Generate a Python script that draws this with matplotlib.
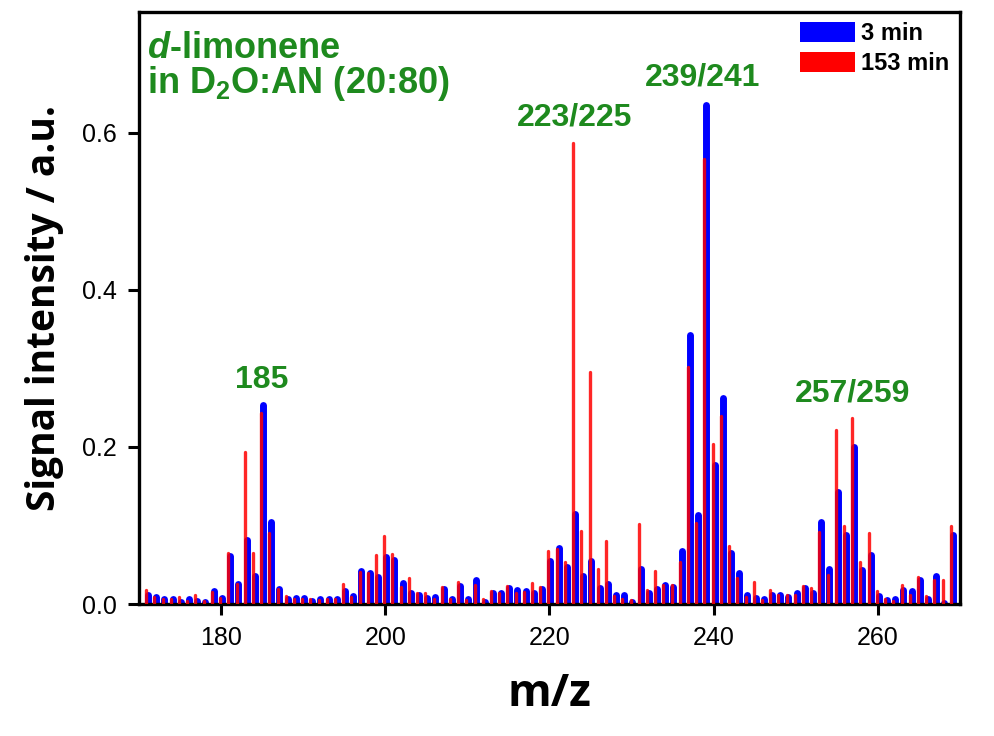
import numpy as np
import matplotlib
matplotlib.use("Agg")
import matplotlib.pyplot as plt
from matplotlib.patches import Patch

# m/z values, one peak per integer mass
mz = np.arange(171, 270)

# signal intensity after 3 min (blue)
sig_3min = [
    0.011, 0.009, 0.006, 0.006, 0.003, 0.006, 0.004, 0.002, 0.016, 0.008,  # 171-180
    0.061, 0.025, 0.081, 0.036, 0.254, 0.104, 0.019, 0.007, 0.008, 0.008,  # 181-190
    0.004, 0.006, 0.006, 0.006, 0.016, 0.010, 0.042, 0.039, 0.034, 0.060,  # 191-200
    0.056, 0.027, 0.014, 0.011, 0.008, 0.009, 0.019, 0.007, 0.023, 0.007,  # 201-210
    0.031, 0.003, 0.014, 0.014, 0.021, 0.018, 0.017, 0.014, 0.019, 0.055,  # 211-220
    0.071, 0.047, 0.115, 0.036, 0.055, 0.021, 0.026, 0.011, 0.011, 0.002,  # 221-230
    0.045, 0.014, 0.019, 0.024, 0.022, 0.067, 0.342, 0.113, 0.635, 0.177,  # 231-240
    0.262, 0.065, 0.040, 0.011, 0.008, 0.006, 0.011, 0.011, 0.009, 0.014,  # 241-250
    0.020, 0.014, 0.105, 0.045, 0.143, 0.088, 0.200, 0.043, 0.063, 0.010,  # 251-260
    0.005, 0.006, 0.018, 0.017, 0.031, 0.006, 0.036, 0.001, 0.088,         # 261-269
]

# signal intensity after 153 min (red)
sig_153min = [
    0.018, 0.009, 0.006, 0.006, 0.009, 0.004, 0.012, 0.004, 0.015, 0.008,  # 171-180
    0.065, 0.025, 0.193, 0.065, 0.243, 0.090, 0.019, 0.010, 0.006, 0.006,  # 181-190
    0.006, 0.005, 0.006, 0.006, 0.025, 0.009, 0.041, 0.040, 0.062, 0.087,  # 191-200
    0.064, 0.022, 0.033, 0.014, 0.014, 0.006, 0.022, 0.006, 0.028, 0.005,  # 201-210
    0.024, 0.007, 0.017, 0.014, 0.023, 0.014, 0.015, 0.027, 0.022, 0.067,  # 211-220
    0.070, 0.054, 0.587, 0.093, 0.295, 0.045, 0.080, 0.010, 0.007, 0.005,  # 221-230
    0.102, 0.018, 0.042, 0.024, 0.024, 0.054, 0.302, 0.103, 0.567, 0.204,  # 231-240
    0.239, 0.074, 0.033, 0.009, 0.028, 0.005, 0.018, 0.011, 0.012, 0.011,  # 241-250
    0.023, 0.021, 0.092, 0.037, 0.222, 0.100, 0.237, 0.053, 0.091, 0.017,  # 251-260
    0.007, 0.004, 0.024, 0.011, 0.035, 0.010, 0.030, 0.030, 0.099,         # 261-269
]

peak_labels = ["185", "223/225", "239/241", "257/259"]
peak_label_pos = [(185.0, 0.285), (223.0, 0.619), (238.7, 0.671), (256.9, 0.268)]

plt.rcParams["font.family"] = ["Liberation Sans", "DejaVu Sans"]
plt.rcParams["mathtext.fontset"] = "custom"
plt.rcParams["mathtext.rm"] = "Liberation Sans:bold"
plt.rcParams["mathtext.bf"] = "Liberation Sans:bold"
plt.rcParams["mathtext.it"] = "Liberation Sans:italic:bold"

fig = plt.figure(figsize=(9.94, 7.36), dpi=100)
ax = fig.add_axes([0.1398, 0.1793, 0.8260, 0.8044])

ax.vlines(mz + 0.1, 0, sig_3min, color="#0000FF", linewidth=5.0, capstyle="round", zorder=2)
ax.vlines(mz - 0.12, 0, sig_153min, color="#FF0000", linewidth=2.4, alpha=0.85,
          capstyle="round", zorder=3)

ax.set_xlim(170, 270)
ax.set_ylim(0, 0.754)
ax.set_xticks([180, 200, 220, 240, 260])
ax.set_yticks([0.0, 0.2, 0.4, 0.6])
ax.set_yticklabels(["0.0", "0.2", "0.4", "0.6"])
ax.tick_params(direction="out", length=8, width=2.2, labelsize=18)
ax.tick_params(axis="x", pad=8)
ax.tick_params(axis="y", pad=8)
for s in ax.spines.values():
    s.set_linewidth(2.4)

ax.set_xlabel("m/z", fontsize=32, fontweight="bold", family="Open Sans", labelpad=16)
ax.set_ylabel("Signal intensity / a.u.", fontsize=28, fontweight="bold",
              family="Open Sans", labelpad=13)

green = "#1E8A1E"
ax.text(171.0, 0.707, r"$\mathit{d}$-limonene", fontsize=26, fontweight="bold",
        color=green, va="center", ha="left")
ax.text(171.0, 0.663, r"in D$_{2}$O:AN (20:80)", fontsize=26, fontweight="bold",
        color=green, va="center", ha="left")
for lab, (x, y) in zip(peak_labels, peak_label_pos):
    ax.text(x, y, lab, fontsize=23, fontweight="bold", color=green,
            ha="center", va="center")

handles = [Patch(facecolor="#0000FF", edgecolor="none", label="3 min"),
           Patch(facecolor="#FF0000", edgecolor="none", label="153 min")]
ax.legend(handles=handles, loc="upper left", bbox_to_anchor=(0.805, 0.983),
          frameon=False, handlelength=2.35, handleheight=0.9, labelspacing=0.3,
          handletextpad=0.25, borderpad=0, borderaxespad=0,
          prop={"weight": "bold", "size": 17})

fig.savefig("out.png", dpi=100)
